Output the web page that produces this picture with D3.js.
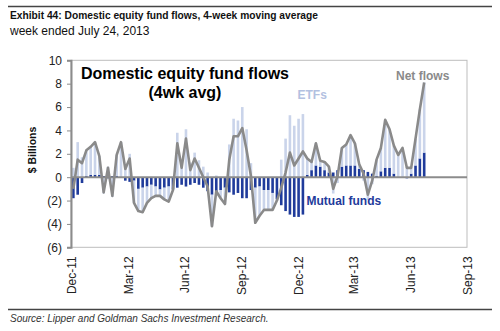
<!DOCTYPE html>
<html lang="en">
<head>
<meta charset="UTF-8">
<title>Domestic equity fund flows</title>
<script src="https://d3js.org/d3.v7.min.js"></script>
<style>
  body { margin: 0; background: #fff; }
  svg { font-family: "Liberation Sans", Arial, sans-serif; }
  .axis text { fill: #222; font-size: 12px; }
</style>
</head>
<body>
<script>
// 4-week moving averages, $ billions, weekly from early Dec-2011
const mutualFunds = [-1.8, -1.5, -0.5, 0.1, 0.2, 0.2, 0.2, 0.1, -0.1, 0.1,
  0.1, 0.0, -0.3, -0.4, -0.3, -1.0, -0.9, -0.8, -0.65, -0.8,
  -1.05, -0.9, -0.8, -1.05, -0.9, -0.65, -0.8, -0.65, -0.5, -0.65,
  -0.9, -1.2, -1.5, -1.35, -1.1, -0.9, -1.3, -1.5, -1.35, -1.8,
  -1.8, -1.1, -0.9, -0.8, -1.1, -1.1, -1.35, -1.9, -2.4, -2.9,
  -3.2, -3.4, -3.4, -3.2, 0.2, 0.6, 1.0, 0.9, 0.6, 0.4,
  0.4, 0.6, 0.9, 1.0, 1.0, 1.0, 0.7, 0.6, 0.45, 0.3,
  0.1, 0.5, 0.8, 0.8, 0.3, 0.0, 0.0, -0.1, 0.3, 1.0,
  1.6, 2.1];
const etfs = [0.8, 3.0, 1.7, 2.2, 2.4, 2.8, 1.6, -1.4, 0.9, -1.7,
  1.8, 3.0, 1.0, 2.0, -1.9, -1.9, -2.1, -1.4, -1.15, -0.8,
  -0.55, -1.0, -1.3, -0.05, 3.8, 1.45, 4.1, 1.25, 2.1, 1.45,
  0.9, 0.4, -2.7, 0.15, -0.7, -1.4, 2.8, 5.0, 4.85, 6.0,
  4.1, 1.2, -3.0, -2.5, -1.7, -1.7, -1.45, -0.1, 1.5, 3.3,
  5.3, 4.4, 5.0, 5.4, 1.4, 0.7, 1.9, 0.5, 0.7, 0.5,
  -1.4, -0.5, 1.6, 1.8, 2.6, 1.9, 0.4, -0.3, -1.95, -0.6,
  1.4, 2.0, 4.1, 3.3, 2.4, 1.9, 2.5, 0.9, 0.5, 2.3,
  4.2, 6.0];
const netFlows = [-1.0, 1.5, 1.2, 2.3, 2.6, 3.0, 1.8, -1.3, 0.8, -1.6,
  1.9, 3.0, 0.7, 1.6, -2.2, -2.9, -3.0, -2.2, -1.8, -1.6,
  -1.6, -1.9, -2.1, -1.1, 2.9, 0.8, 3.3, 0.6, 1.6, 0.8,
  0.0, -0.8, -4.2, -1.2, -1.8, -2.3, 1.5, 3.5, 3.5, 4.2,
  2.3, 0.1, -3.9, -3.3, -2.8, -2.8, -2.8, -2.0, -0.9, 0.4,
  2.1, 1.0, 1.6, 2.2, 1.6, 1.3, 2.9, 1.4, 1.3, 0.9,
  -1.0, 0.1, 2.5, 2.8, 3.6, 2.9, 1.1, 0.3, -1.5, -0.3,
  1.5, 2.5, 4.9, 4.1, 2.7, 1.9, 2.5, 0.8, 0.8, 3.3,
  5.8, 8.1];
const firstWeek = "2011-12-04";
const xTicks = ["2011-12-01", "2012-03-01", "2012-06-01", "2012-09-01",
  "2012-12-01", "2013-03-01", "2013-06-01", "2013-09-01"];
const yTicks = [-6, -4, -2, 0, 2, 4, 6, 8, 10];

const width = 500, height = 331;
const box = {left: 71, right: 467, top: 60.3, bottom: 247.3};

const parse = d3.timeParse("%Y-%m-%d");
const start = parse(firstWeek);
const rows = netFlows.map((v, i) => ({
  date: d3.timeDay.offset(start, 7 * i),
  mf: mutualFunds[i],
  etf: etfs[i],
  net: v
}));

const svg = d3.select("body").append("svg")
  .attr("width", width).attr("height", height);

const x = d3.scaleTime()
  .domain([parse(xTicks[0]), parse(xTicks[xTicks.length - 1])])
  .range([box.left + 0.5, box.right + 0.5]);
const y = d3.scaleLinear().domain([-6, 10]).range([box.bottom, box.top]);

// header / footer rules
svg.append("line").attr("x1", 8).attr("x2", 492).attr("y1", 6.5).attr("y2", 6.5)
  .attr("stroke", "#444").attr("stroke-width", 1.5);
svg.append("line").attr("x1", 8).attr("x2", 492).attr("y1", 309.5).attr("y2", 309.5)
  .attr("stroke", "#444").attr("stroke-width", 1.5);

svg.append("text").attr("x", 10).attr("y", 18.5)
  .attr("font-weight", "bold").attr("font-size", "11.5px").attr("fill", "#111")
  .attr("textLength", 308).attr("lengthAdjust", "spacingAndGlyphs")
  .text("Exhibit 44: Domestic equity fund flows, 4-week moving average");
svg.append("text").attr("x", 10).attr("y", 35)
  .attr("font-size", "12px").attr("fill", "#111")
  .text("week ended July 24, 2013");
svg.append("text").attr("x", 10).attr("y", 322)
  .attr("font-size", "10px").attr("font-style", "italic").attr("fill", "#333")
  .text("Source: Lipper and Goldman Sachs Investment Research.");

// plot frame
svg.append("rect")
  .attr("x", box.left).attr("y", box.top)
  .attr("width", box.right - box.left).attr("height", box.bottom - box.top)
  .attr("fill", "none").attr("stroke", "#bdbdbd").attr("stroke-width", 1);

// stacked bars (mutual funds next to zero, ETFs beyond)
const series = d3.stack().keys(["mf", "etf"])
  .offset(d3.stackOffsetDiverging)(rows);
const colors = {mf: "#1f3b9b", etf: "#cad4ea"};
const barW = 2.6;

svg.append("g").selectAll("g")
  .data(series)
  .join("g")
    .attr("fill", s => colors[s.key])
  .selectAll("rect")
  .data(s => s)
  .join("rect")
    .attr("x", d => x(d.data.date) - barW / 2)
    .attr("width", barW)
    .attr("y", d => y(Math.max(d[0], d[1])))
    .attr("height", d => Math.abs(y(d[0]) - y(d[1])));

// zero line
svg.append("line")
  .attr("x1", box.left).attr("x2", box.right)
  .attr("y1", y(0)).attr("y2", y(0))
  .attr("stroke", "#8c8c8c").attr("stroke-width", 2);

// net flows line
const line = d3.line()
  .x(d => x(d.date))
  .y(d => y(d.net));
svg.append("path")
  .datum(rows)
  .attr("d", line)
  .attr("fill", "none")
  .attr("stroke", "#8a8a8a")
  .attr("stroke-width", 2.6)
  .attr("stroke-linejoin", "round");

// y axis
const yAxis = svg.append("g")
  .attr("class", "axis")
  .attr("transform", `translate(${box.left},0)`)
  .call(d3.axisLeft(y).tickValues(yTicks).tickSize(4).tickPadding(5)
    .tickFormat(v => v < 0 ? `(${-v})` : v));
yAxis.select(".domain").attr("stroke", "#8c8c8c").attr("stroke-width", 2);
yAxis.selectAll(".tick line").attr("stroke", "#8c8c8c");

svg.append("text")
  .attr("transform", `translate(36,150) rotate(-90)`)
  .attr("text-anchor", "middle")
  .attr("font-weight", "bold").attr("font-size", "10.5px").attr("fill", "#111")
  .text("$ Billions");

// x axis
const xAxis = svg.append("g")
  .attr("class", "axis")
  .attr("transform", `translate(0,${box.bottom})`)
  .call(d3.axisBottom(x).tickValues(xTicks.map(parse)).tickSize(0)
    .tickFormat(d3.timeFormat("%b-%y")));
xAxis.select(".domain").remove();
xAxis.selectAll("text")
  .attr("transform", "rotate(-90)")
  .attr("x", -9).attr("y", 0).attr("dy", "0.35em")
  .style("text-anchor", "end");

// labels inside the chart
svg.append("text").attr("x", 185).attr("y", 78.5)
  .attr("text-anchor", "middle")
  .attr("font-weight", "bold").attr("font-size", "16px").attr("fill", "#000")
  .text("Domestic equity fund flows");
svg.append("text").attr("x", 185).attr("y", 98)
  .attr("text-anchor", "middle")
  .attr("font-weight", "bold").attr("font-size", "16px").attr("fill", "#000")
  .text("(4wk avg)");
svg.append("text").attr("x", 297.5).attr("y", 98.5)
  .attr("font-weight", "bold").attr("font-size", "12px").attr("fill", "#b3c1e1")
  .text("ETFs");
svg.append("text").attr("x", 396).attr("y", 79.5)
  .attr("font-weight", "bold").attr("font-size", "12px").attr("fill", "#8a8a8a")
  .text("Net flows");
svg.append("text").attr("x", 306.5).attr("y", 205)
  .attr("font-weight", "bold").attr("font-size", "12px").attr("fill", "#1f3b9b")
  .text("Mutual funds");
</script>
</body>
</html>
